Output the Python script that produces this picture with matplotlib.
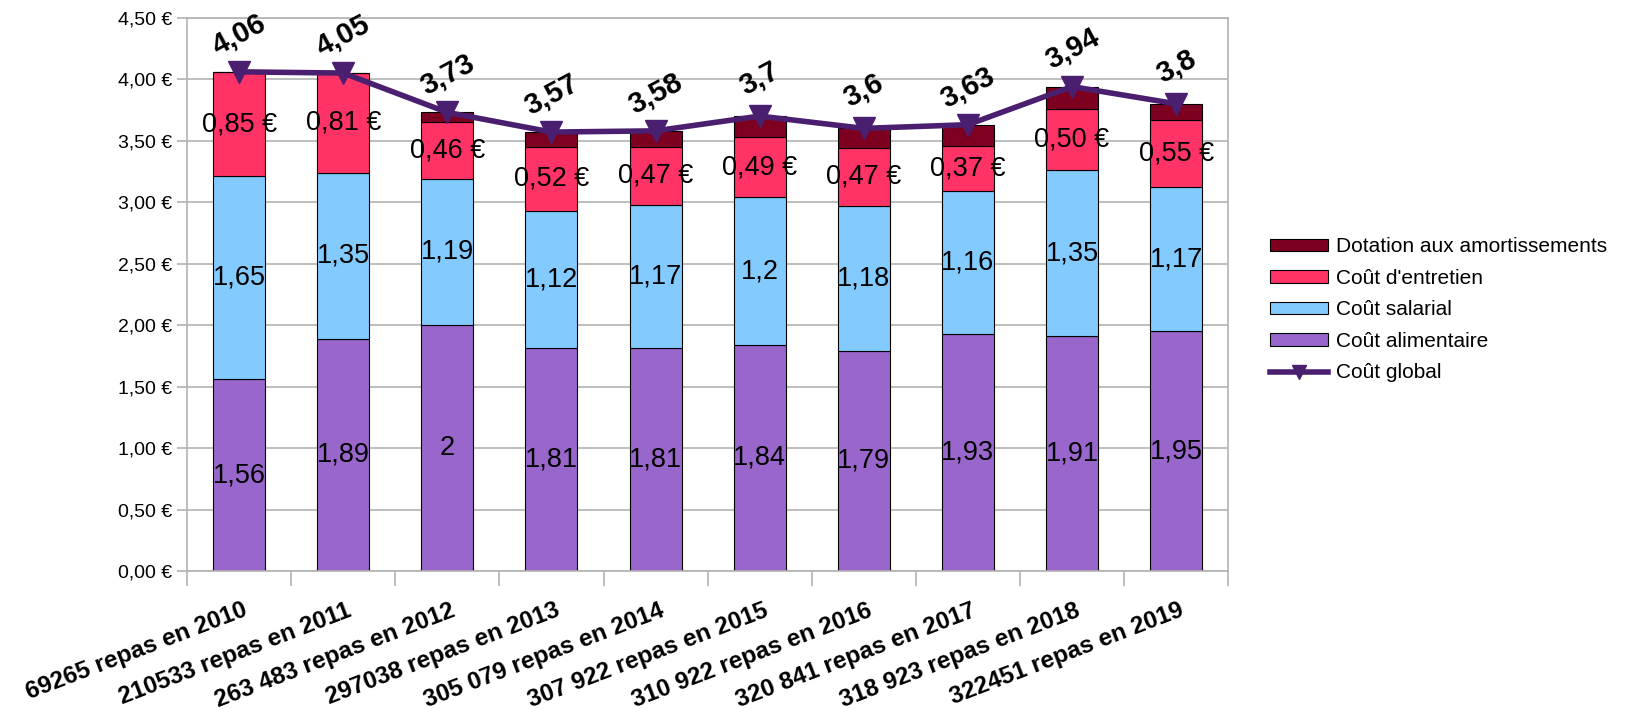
import numpy as np
import matplotlib
matplotlib.use('Agg')
import matplotlib.pyplot as plt
import matplotlib.transforms as mtransforms
from matplotlib.patches import Patch
from matplotlib.lines import Line2D

plt.rcParams['font.family'] = ['Liberation Sans', 'DejaVu Sans']

categories = ['69265 repas en 2010', '210533 repas en 2011', '263 483 repas en 2012',
              '297038 repas en 2013', '305 079 repas en 2014', '307 922 repas en 2015',
              '310 922 repas en 2016', '320 841 repas en 2017', '318 923 repas en 2018',
              '322451 repas en 2019']
alimentaire = [1.56, 1.89, 2.00, 1.81, 1.81, 1.84, 1.79, 1.93, 1.91, 1.95]
salarial = [1.65, 1.35, 1.19, 1.12, 1.17, 1.20, 1.18, 1.16, 1.35, 1.17]
entretien = [0.85, 0.81, 0.46, 0.52, 0.47, 0.49, 0.47, 0.37, 0.50, 0.55]
dotation = [0.0, 0.0, 0.08, 0.12, 0.13, 0.17, 0.16, 0.17, 0.18, 0.13]
global_cost = [4.06, 4.05, 3.73, 3.57, 3.58, 3.70, 3.60, 3.63, 3.94, 3.80]
y_ticks = [0, 0.5, 1, 1.5, 2, 2.5, 3, 3.5, 4, 4.5]

c_alim = '#9966cc'
c_sal = '#83caff'
c_ent = '#ff3366'
c_dot = '#7e0021'
c_line = '#4b1f6f'
grid_col = '#b3b3b3'


def fr(v, euro=False):
    if euro:
        return ('%.2f' % v).replace('.', ',') + ' €'
    return ('%g' % v).replace('.', ',')


fig = plt.figure(figsize=(16.31, 7.09), dpi=100)
ax = fig.add_axes([0.1147, 0.1946, 0.6383, 0.7804])

x = np.arange(len(categories))
w = 0.5
alim = np.array(alimentaire)
sal = np.array(salarial)
ent = np.array(entretien)
dot = np.array(dotation)

ax.bar(x, alim, w, color=c_alim, edgecolor='black', linewidth=0.8, zorder=2)
ax.bar(x, sal, w, bottom=alim, color=c_sal, edgecolor='black', linewidth=0.8, zorder=2)
ax.bar(x, ent, w, bottom=alim + sal, color=c_ent, edgecolor='black', linewidth=0.8, zorder=2)
ax.bar(x, dot, w, bottom=alim + sal + ent, color=c_dot, edgecolor='black', linewidth=0.8, zorder=2)
ax.plot(x, global_cost, color=c_line, lw=4, marker='v', markersize=16, zorder=4)

# valeurs dans les segments + total au dessus
for i in range(len(x)):
    ax.text(x[i], alim[i] / 2, fr(alim[i]), ha='center', va='center', fontsize=19.5, zorder=5)
    ax.text(x[i], alim[i] + sal[i] / 2, fr(sal[i]), ha='center', va='center', fontsize=19.5,
            zorder=5)
    ax.text(x[i], alim[i] + sal[i] + ent[i] / 2, fr(ent[i], True), ha='center', va='center',
            fontsize=19.5, zorder=5)
    ax.annotate(fr(global_cost[i]), (x[i], global_cost[i]), xytext=(0, 27),
                textcoords='offset points', ha='center', va='center', fontsize=21,
                fontweight='bold', rotation=28, zorder=5)

ax.set_xlim(-0.5, len(x) - 0.5)
ax.set_ylim(0, 4.5)
ax.set_yticks(y_ticks)
ax.set_yticklabels([('%.2f' % v).replace('.', ',') + ' €' for v in y_ticks], fontsize=14)
ax.yaxis.grid(True, color=grid_col, lw=1.2, zorder=0)
ax.set_axisbelow(True)
for s in ax.spines.values():
    s.set_color(grid_col)
    s.set_linewidth(1.2)
ax.tick_params(axis='y', length=7, color=grid_col, width=1.2, pad=4)

ax.set_xticks(x)
ax.set_xticklabels(categories, fontsize=17.5, fontweight='bold', rotation=21,
                   ha='right', rotation_mode='anchor')
ax.set_xticks(np.arange(len(x) + 1) - 0.5, minor=True)
ax.tick_params(axis='x', which='major', length=0, pad=20)
ax.tick_params(axis='x', which='minor', length=11, color=grid_col, width=1.2)
offset = mtransforms.ScaledTranslation(3 / 100, 0, fig.dpi_scale_trans)
for lab in ax.get_xticklabels():
    lab.set_transform(lab.get_transform() + offset)

handles = [Patch(facecolor=c_dot, edgecolor='black', lw=0.8),
           Patch(facecolor=c_ent, edgecolor='black', lw=0.8),
           Patch(facecolor=c_sal, edgecolor='black', lw=0.8),
           Patch(facecolor=c_alim, edgecolor='black', lw=0.8),
           Line2D([], [], color=c_line, lw=4, marker='v', markersize=10)]
names = ['Dotation aux amortissements', "Coût d'entretien", 'Coût salarial',
         'Coût alimentaire', 'Coût global']
fig.legend(handles, names, loc='center left', bbox_to_anchor=(0.767, 0.563), frameon=False,
           fontsize=15, handlelength=2.8, handleheight=0.55, labelspacing=0.6,
           handletextpad=0.4)

fig.savefig('out.png', dpi=100)
